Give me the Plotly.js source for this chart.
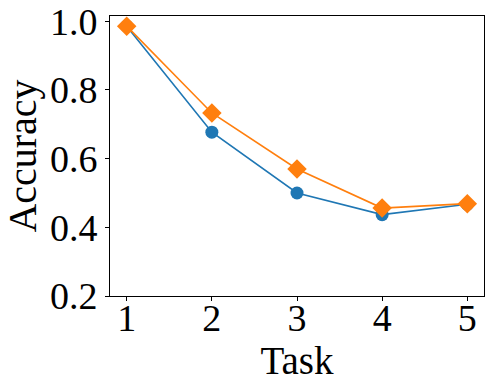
<!DOCTYPE html>
<html>
<head>
<meta charset="utf-8">
<script src="https://cdn.plot.ly/plotly-3.0.1.min.js"></script>
<style>
  html, body { margin: 0; padding: 0; background: #fff; }
  #graph { width: 492px; height: 392px; }
</style>
</head>
<body>
<div id="graph"></div>
<script>
// data
const tasks = [1, 2, 3, 4, 5];
const accBlue = [0.986, 0.677, 0.500, 0.437, 0.467];
const accOrange = [0.986, 0.733, 0.570, 0.456, 0.469];
const yTicks = [0.2, 0.4, 0.6, 0.8, 1.0];
const yTickText = ["0.2", "0.4", "0.6", "0.8", "1.0"];

const font = "Liberation Serif";

let traceBlue = {
    x: tasks,
    y: accBlue,
    mode: "lines+markers",
    type: "scatter",
    line: { color: "#1f77b4", width: 1.6 },
    marker: { symbol: "circle", size: 13, color: "#1f77b4" }
};

let traceOrange = {
    x: tasks,
    y: accOrange,
    mode: "lines+markers",
    type: "scatter",
    line: { color: "#ff7f0e", width: 1.6 },
    marker: { symbol: "diamond", size: 15, color: "#ff7f0e" }
};

let layout = {
    width: 492,
    height: 392,
    margin: { l: 110, r: 8, t: 16, b: 96 },
    showlegend: false,
    paper_bgcolor: "#fff",
    plot_bgcolor: "#fff",
    font: { family: font, size: 38, color: "#000" },
    xaxis: {
        range: [0.804, 5.196],
        tickvals: tasks,
        ticktext: tasks.map(String),
        ticks: "outside",
        ticklen: 4,
        tickwidth: 1,
        tickcolor: "#000",
        ticklabelstandoff: -16,
        showgrid: false,
        zeroline: false,
        showline: true,
        linecolor: "#000",
        linewidth: 1,
        mirror: true,
        tickfont: { family: font, size: 38, color: "#000" },
        title: { text: "Task", font: { family: font, size: 39, color: "#000" }, standoff: 2 },
        automargin: false
    },
    yaxis: {
        range: [0.2, 1.0155],
        tickvals: yTicks,
        ticktext: yTickText,
        ticks: "outside",
        ticklen: 4,
        tickwidth: 1,
        tickcolor: "#000",
        showgrid: false,
        zeroline: false,
        showline: true,
        linecolor: "#000",
        linewidth: 1,
        mirror: true,
        tickfont: { family: font, size: 38, color: "#000" },
        title: { text: "Accuracy", font: { family: font, size: 40, color: "#000" }, standoff: 6 },
        automargin: false
    }
};

Plotly.newPlot("graph", [traceBlue, traceOrange], layout, { displayModeBar: false, staticPlot: true });
</script>
</body>
</html>
